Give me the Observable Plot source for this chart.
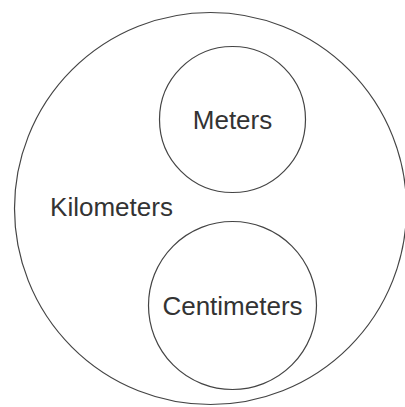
<!DOCTYPE html>
<html>
<head>
<meta charset="utf-8">
<script src="https://cdn.jsdelivr.net/npm/d3@7"></script>
<script src="https://cdn.jsdelivr.net/npm/@observablehq/plot@0.6"></script>
<style>
  html, body { margin: 0; padding: 0; background: #fff; }
</style>
</head>
<body>
<div id="chart"></div>
<script>
const sets = ["Kilometers", "Meters", "Centimeters"];
const centerX = [210, 232, 232];
const centerY = [208, 119, 305];
const radius = [196, 73, 84];
const labelX = [111, 232, 232];
const labelY = [207, 120, 306];

const data = sets.map((name, i) => ({
  name, cx: centerX[i], cy: centerY[i], r: radius[i], lx: labelX[i], ly: labelY[i]
}));

const chart = Plot.plot({
  width: 405,
  height: 407,
  margin: 0,
  style: { fontFamily: "'Liberation Sans', Arial, sans-serif", background: "#fff" },
  x: { domain: [0, 405], range: [0, 405], axis: null },
  y: { domain: [0, 407], range: [0, 407], axis: null },
  r: { type: "identity" },
  marks: [
    Plot.dot(data, { x: "cx", y: "cy", r: "r", stroke: "#444", strokeWidth: 1.2, fill: "none" }),
    Plot.text(data, { x: "lx", y: "ly", text: "name", fontSize: 26, fill: "#333" })
  ]
});
document.getElementById("chart").appendChild(chart);
</script>
</body>
</html>
